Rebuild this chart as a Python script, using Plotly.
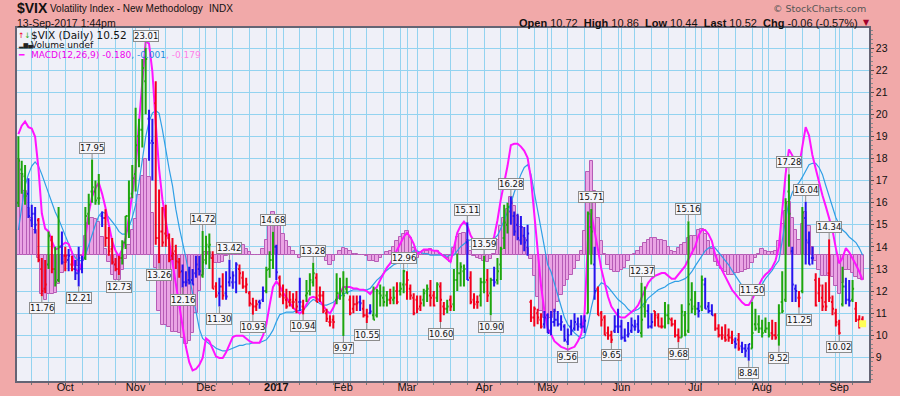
import plotly.graph_objects as go

# ---------------- data (trading-day index 0 = 13-Sep-2016 ... 252 = 13-Sep-2017) -------------
MONTH_IDX = [14, 35, 56, 77, 97, 116, 139, 158, 180, 202, 222, 245]
MONTH_LBL = ["Oct", "Nov", "Dec", "<b>2017</b>", "Feb", "Mar", "Apr", "May", "Jun", "Jul", "Aug", "Sep"]
PRICE_TICKS = list(range(9, 24))

OPEN = [16.0,17.5,17.2,16.4,15.2,15.5,15.2,13.0,12.1,13.2,
        14.3,13.0,12.5,14.0,13.6,13.4,13.2,13.0,12.8,13.0,
        13.5,15.5,16.5,16.5,16.2,15.4,15.3,14.4,13.9,13.2,
        13.0,13.5,14.2,15.4,16.4,17.3,19.0,19.3,21.5,19.8,
        18.8,20.5,14.4,14.7,14.6,14.4,13.6,13.8,13.3,12.9,
        12.4,12.5,12.5,12.8,13.0,12.7,13.4,14.0,13.5,12.2,
        11.9,12.2,11.9,12.4,12.4,12.4,13.0,12.6,12.2,11.9,
        11.4,11.3,11.5,11.6,12.0,13.0,13.4,14.0,12.6,11.8,
        11.6,11.5,11.5,11.6,11.5,11.3,11.8,12.0,12.4,12.6,
        11.8,11.8,11.0,10.6,10.7,11.6,11.9,11.9,12.1,11.6,
        11.2,11.4,11.5,11.2,10.9,11.0,10.9,10.9,11.9,11.7,
        11.8,11.6,11.6,12.0,12.0,12.3,12.3,12.1,11.7,11.6,
        11.3,11.6,12.0,11.8,11.8,11.7,12.2,11.3,11.2,11.6,
        11.4,12.5,12.8,12.9,14.2,12.6,11.6,11.5,11.8,12.4,
        12.5,11.9,12.5,12.5,13.2,14.4,15.0,15.6,15.4,15.0,
        14.3,14.5,14.3,11.5,10.8,11.0,10.7,10.5,10.9,10.2,
        10.6,10.7,10.5,10.4,9.7,10.4,10.3,10.5,10.5,10.4,
        11.0,14.9,13.2,12.1,11.0,10.8,10.1,10.0,10.2,10.4,
        10.4,9.9,10.0,10.2,10.4,10.5,10.1,11.3,11.1,10.4,
        11.1,10.8,10.4,10.4,10.9,10.7,10.5,10.0,9.9,10.9,
        10.2,11.6,11.3,11.2,11.3,12.3,11.3,11.1,10.9,10.3,
        10.0,9.9,10.0,9.9,9.7,9.8,9.5,9.4,9.4,9.4,
        10.5,10.5,10.3,10.2,10.3,10.1,10.0,10.0,11.5,11.6,
        16.5,13.8,12.1,11.7,12.0,15.3,14.2,13.5,12.5,11.9,
        11.7,11.5,12.8,11.5,11.0,10.5,11.4,12.2,11.6,11.6,
        11.2,10.7,10.72]

HIGH = [19.0,17.9,17.7,17.1,15.9,15.8,15.3,13.5,13.4,14.7,
        14.5,14.0,15.8,14.7,14.0,13.9,13.6,13.4,14.0,13.6,
        15.8,16.4,17.95,17.0,17.3,15.6,15.7,14.9,14.4,13.5,
        13.6,14.3,15.4,17.0,17.7,20.3,19.8,22.5,23.01,20.2,
        19.8,21.5,16.6,15.8,15.9,14.6,14.4,14.1,13.5,13.2,
        12.9,13.1,13.0,13.6,13.6,14.72,14.5,14.6,13.8,12.4,
        12.6,12.8,12.9,13.42,12.9,13.3,13.2,12.9,12.6,12.0,
        11.7,11.6,11.6,12.2,13.1,13.8,14.68,14.1,12.7,12.3,
        12.1,12.0,11.9,12.0,12.6,11.6,12.5,12.8,13.28,12.8,
        12.2,12.0,11.2,10.9,10.9,12.8,12.6,12.9,12.6,11.8,
        11.8,11.8,11.8,11.6,11.2,11.4,12.2,12.1,12.3,12.2,
        12.0,12.1,12.2,12.4,12.4,12.96,12.9,12.3,11.9,11.8,
        11.8,12.1,12.3,12.5,12.0,12.4,12.4,11.5,11.6,11.8,
        13.0,13.7,13.3,13.2,15.11,12.9,11.9,11.8,12.6,13.59,
        13.0,12.6,13.1,13.5,14.0,15.9,16.0,16.28,15.6,15.5,
        15.4,14.9,15.0,11.6,11.3,11.2,11.0,11.1,11.0,11.1,
        11.2,11.1,10.9,10.5,10.3,10.7,11.0,10.8,10.9,10.9,
        15.6,15.71,14.0,12.2,11.1,10.9,10.4,10.2,10.9,11.2,
        10.7,10.3,10.6,10.8,10.7,10.9,12.37,12.2,11.4,11.0,
        11.1,11.0,10.8,11.5,11.4,10.8,10.7,10.3,11.4,11.1,
        15.16,12.4,12.0,11.5,12.7,12.6,11.5,11.4,11.0,10.5,
        10.4,10.5,10.3,10.2,9.9,10.1,9.7,9.6,9.6,11.50,
        11.2,10.9,10.7,10.8,10.6,10.7,10.6,11.4,12.9,16.2,
        17.28,14.0,12.3,12.0,15.8,16.04,14.7,14.0,12.8,12.6,
        12.3,12.4,14.34,11.8,11.2,10.7,13.1,12.6,12.5,12.5,
        11.5,10.9,10.86]

LOW = [15.8,16.4,15.9,15.3,14.9,14.6,13.3,11.76,11.9,13.0,
       12.8,12.2,12.4,13.2,12.9,12.9,12.9,12.5,12.21,12.8,
       13.4,15.0,16.0,15.9,15.9,14.9,14.0,13.6,13.2,12.9,
       12.73,13.2,13.9,14.4,16.2,16.5,17.6,18.5,20.0,17.9,
       17.0,14.1,13.26,14.0,14.0,13.3,13.4,13.0,12.6,12.16,
       12.2,12.3,12.3,12.6,12.7,12.6,13.2,13.0,12.1,11.7,
       11.30,11.6,11.6,12.2,12.1,11.9,12.3,12.1,11.9,11.3,
       10.93,11.1,11.2,11.5,11.9,12.6,13.0,12.5,11.7,11.4,
       11.2,11.3,11.2,11.0,11.1,10.94,11.5,11.8,12.2,11.5,
       11.5,11.0,10.6,10.4,10.3,11.4,11.6,9.97,11.9,10.9,
       11.0,11.1,11.1,10.8,10.55,10.95,10.7,10.8,11.3,11.3,
       11.3,11.4,11.4,11.4,11.8,11.9,11.6,11.6,10.9,11.0,
       11.1,11.3,11.5,11.3,11.3,11.5,10.60,10.9,11.0,11.1,
       11.1,12.0,12.2,12.2,12.5,11.4,11.2,11.2,11.3,11.9,
       11.5,10.90,12.2,12.3,12.5,13.9,14.6,15.0,14.5,14.3,
       14.1,13.8,13.6,10.6,10.4,10.5,10.3,10.3,10.1,10.0,
       10.4,10.4,10.2,9.7,9.56,10.0,10.2,10.2,10.3,10.1,
       11.0,13.2,11.6,10.9,10.4,10.0,9.8,9.65,10.1,10.1,
       9.8,9.7,9.9,10.1,10.2,10.1,9.9,10.8,10.3,10.3,
       10.4,10.4,10.3,10.3,10.5,10.4,9.9,9.68,9.9,9.95,
       10.1,11.0,10.9,10.8,11.1,11.2,11.0,10.9,10.2,9.9,
       9.8,9.7,9.7,9.6,9.4,9.3,9.2,9.0,8.84,9.4,
       10.2,10.1,9.9,10.1,9.9,9.8,9.8,9.52,11.0,11.5,
       14.0,11.5,11.5,11.25,11.9,13.2,13.2,13.2,11.3,11.5,
       11.1,11.1,11.5,10.9,10.4,10.02,11.3,11.4,11.3,11.5,
       10.6,10.3,10.44]

CLOSE = [17.9,17.3,16.3,15.4,15.5,15.0,13.4,12.0,12.3,14.5,
         13.0,12.4,14.0,13.3,13.6,13.6,13.0,12.8,13.5,13.4,
         15.4,15.9,16.7,16.1,16.2,15.3,14.4,13.8,13.3,13.0,
         13.5,14.2,15.4,16.2,17.1,18.6,19.3,22.1,22.5,18.7,
         18.7,14.4,14.7,14.2,14.5,13.4,13.7,13.35,12.85,12.4,
         12.4,12.4,12.3,13.2,12.9,13.3,14.1,14.1,12.1,11.8,
         12.2,11.8,11.75,12.6,12.7,13.2,12.8,12.2,12.3,11.45,
         11.3,11.4,11.45,12.0,12.95,13.4,14.0,12.85,11.85,11.7,
         11.3,11.6,11.5,11.3,11.5,11.2,11.9,12.5,12.8,11.5,
         11.8,11.1,10.75,10.6,10.6,11.9,12.0,11.8,11.9,11.0,
         11.4,11.45,11.45,10.9,10.85,11.07,10.7,12.0,11.8,11.5,
         11.6,11.7,11.7,11.5,12.1,12.9,12.5,11.8,11.0,11.2,
         11.45,11.9,12.1,11.7,11.35,12.3,11.6,11.2,11.3,11.3,
         12.5,12.8,13.1,13.0,12.5,11.5,11.4,11.5,12.4,12.4,
         11.8,12.5,12.4,12.9,13.9,15.1,15.8,16.0,14.7,14.4,
         14.9,14.2,14.6,10.8,11.2,10.8,10.4,10.8,10.1,10.6,
         10.7,10.5,10.6,9.8,10.0,10.2,10.6,10.4,10.4,10.65,
         15.5,14.7,12.0,10.9,10.7,10.0,9.99,9.8,10.4,10.4,
         9.9,9.75,10.07,10.45,10.4,10.2,10.7,11.5,10.4,10.6,
         10.9,10.4,10.4,10.9,10.75,10.5,10.0,9.9,11.06,10.03,
         11.4,11.2,11.2,11.1,12.5,11.2,11.1,10.9,10.3,10.0,
         10.0,9.8,9.9,9.8,9.6,9.4,9.4,9.3,9.6,10.1,
         10.3,10.3,10.1,10.3,10.0,10.0,9.9,11.0,11.1,16.0,
         15.5,12.3,12.0,11.7,15.55,14.3,13.2,13.5,11.35,12.25,
         11.3,11.3,11.7,11.2,10.6,10.1,12.2,11.6,11.55,12.1,
         10.7,10.6,10.52]

# Elder-impulse state of each bar: G = up, R = down, B = neutral
IMPULSE = ("GGGBBBRRRGRGGB" "RBRBBBGGGGGBRRRRRGGGG" "GGGGBBRRRRRRRRBBBBBBG"
           "GGRRBRBBBBRRRRRRBBGGG" "BRRRRRRBRGGGRRRRRRGGGG" "RRRBRRBGGGGGRGRGG"
           "RRRRRGGRRGRRGRGGGGBRRRG" "GRGBGGGGBBBBBBRRRRB" "BBBBBBBBBBBBGGBRRRRRBB"
           "BBBBBBGGBBRRRGGRRRGGGG" "GBGBBBRRRRRRBRBBBGGG" "GGGRRGGGGBBRGBBBRRRRRRR"
           "RGBBGRRR")

MACD = [0.87,0.93,0.96,0.92,0.91,0.85,0.62,0.30,0.19,0.17,
        0.10,0.04,0.05,0.07,0.09,0.08,0.02,-0.10,-0.12,-0.05,
        0.14,0.30,0.42,0.48,0.52,0.44,0.34,0.22,0.10,0.03,
        -0.01,0.04,0.12,0.27,0.45,0.62,0.95,1.27,1.54,1.52,
        1.32,0.95,0.62,0.40,0.25,0.10,-0.05,-0.22,-0.36,-0.50,
        -0.66,-0.77,-0.83,-0.82,-0.79,-0.74,-0.60,-0.62,-0.68,-0.73,
        -0.74,-0.74,-0.70,-0.64,-0.59,-0.58,-0.58,-0.58,-0.60,-0.62,
        -0.63,-0.63,-0.63,-0.58,-0.50,-0.36,-0.23,-0.19,-0.22,-0.27,
        -0.31,-0.35,-0.38,-0.40,-0.42,-0.40,-0.36,-0.31,-0.30,-0.31,
        -0.33,-0.37,-0.40,-0.42,-0.38,-0.32,-0.27,-0.23,-0.23,-0.23,
        -0.24,-0.24,-0.25,-0.25,-0.26,-0.28,-0.25,-0.23,-0.18,-0.13,
        -0.09,-0.06,-0.01,0.04,0.09,0.13,0.16,0.13,0.08,0.01,
        0.02,0.04,0.04,0.04,0.03,0.03,0.01,-0.01,-0.03,-0.05,
        0.05,0.16,0.21,0.24,0.21,0.14,0.10,0.08,0.07,0.06,
        0.06,0.08,0.13,0.25,0.40,0.52,0.64,0.79,0.80,0.80,
        0.78,0.75,0.70,0.55,0.30,0.03,-0.22,-0.40,-0.53,-0.57,
        -0.62,-0.64,-0.66,-0.67,-0.68,-0.67,-0.66,-0.62,-0.57,-0.42,
        0.10,0.30,0.18,0.04,-0.10,-0.20,-0.30,-0.37,-0.41,-0.44,
        -0.45,-0.45,-0.43,-0.41,-0.39,-0.36,-0.31,-0.25,-0.20,-0.17,
        -0.15,-0.14,-0.13,-0.13,-0.15,-0.17,-0.17,-0.14,-0.11,-0.08,
        -0.03,0.02,0.06,0.14,0.18,0.18,0.15,0.10,0.00,-0.06,
        -0.11,-0.16,-0.21,-0.25,-0.28,-0.31,-0.34,-0.36,-0.36,-0.32,
        -0.27,-0.22,-0.17,-0.14,-0.12,-0.09,-0.04,0.06,0.32,0.58,
        0.76,0.72,0.67,0.63,0.78,0.92,0.86,0.72,0.62,0.52,
        0.43,0.35,0.27,0.18,0.05,-0.06,-0.02,0.05,0.02,-0.02,
        -0.07,-0.12,-0.180]

SIGNAL = [0.18,0.35,0.50,0.58,0.64,0.67,0.64,0.58,0.51,0.45,
          0.38,0.31,0.26,0.20,0.15,0.09,0.02,-0.02,-0.04,-0.04,
          0.00,0.07,0.15,0.22,0.28,0.31,0.30,0.27,0.24,0.21,
          0.17,0.15,0.15,0.20,0.27,0.36,0.52,0.70,0.85,0.96,
          1.02,1.04,1.02,0.90,0.75,0.62,0.50,0.33,0.20,0.10,
          -0.02,-0.15,-0.27,-0.40,-0.53,-0.60,-0.62,-0.64,-0.65,-0.67,
          -0.68,-0.69,-0.69,-0.68,-0.67,-0.66,-0.65,-0.65,-0.64,-0.64,
          -0.63,-0.63,-0.63,-0.62,-0.61,-0.58,-0.54,-0.48,-0.43,-0.42,
          -0.41,-0.41,-0.41,-0.40,-0.40,-0.39,-0.37,-0.34,-0.32,-0.33,
          -0.35,-0.36,-0.36,-0.35,-0.34,-0.32,-0.30,-0.28,-0.27,-0.26,
          -0.25,-0.25,-0.25,-0.25,-0.25,-0.24,-0.21,-0.18,-0.16,-0.13,
          -0.11,-0.09,-0.07,-0.06,-0.04,-0.02,-0.01,0.01,0.03,0.03,
          0.02,0.01,0.01,0.00,0.00,0.00,0.00,0.00,-0.01,0.00,
          0.00,0.03,0.06,0.08,0.10,0.11,0.11,0.10,0.10,0.10,
          0.11,0.11,0.12,0.14,0.19,0.25,0.31,0.37,0.45,0.52,
          0.58,0.63,0.65,0.58,0.45,0.33,0.18,0.05,-0.07,-0.12,
          -0.21,-0.30,-0.37,-0.45,-0.50,-0.53,-0.56,-0.58,-0.60,-0.59,
          -0.50,-0.38,-0.28,-0.23,-0.20,-0.21,-0.23,-0.26,-0.29,-0.32,
          -0.34,-0.36,-0.39,-0.41,-0.40,-0.39,-0.37,-0.34,-0.31,-0.29,
          -0.27,-0.25,-0.24,-0.23,-0.21,-0.20,-0.19,-0.19,-0.18,-0.17,
          -0.15,-0.12,-0.08,-0.04,-0.01,0.03,0.05,0.06,0.05,0.02,
          -0.01,-0.04,-0.07,-0.11,-0.15,-0.18,-0.22,-0.25,-0.26,-0.26,
          -0.25,-0.23,-0.21,-0.17,-0.14,-0.11,-0.07,-0.04,0.10,0.26,
          0.38,0.45,0.49,0.52,0.56,0.61,0.65,0.66,0.66,0.63,
          0.58,0.50,0.42,0.34,0.27,0.22,0.18,0.16,0.13,0.11,
          0.09,0.05,-0.001]

# bars whose high / low carry a value flag
HIGH_FLAGS = [22, 38, 55, 63, 76, 88, 115, 134, 139, 147, 171, 186, 200, 219, 230, 235, 242]
LOW_FLAGS = [7, 18, 30, 42, 49, 60, 70, 85, 97, 104, 126, 141, 164, 177, 197, 218, 227, 233, 245]

# ---------------- figure -------------
N = len(CLOSE)
X = list(range(N))
HIST = [round(m - s, 3) for m, s in zip(MACD, SIGNAL)]

GRID = "#93d3f0"
BAR_COL = {"G": "#1ea60e", "R": "#f2001c", "B": "#2614ee"}
FONT_V = "DejaVu Sans"
FONT_A = "Liberation Sans"

# plot-area pixel box (used only to place the header texts in paper space)
L_PX, R_PX, T_PX, B_PX = 17, 869, 28, 381
def px(xp):
    return (xp - L_PX) / (R_PX - L_PX)
def py(yp):
    return (B_PX - yp) / (B_PX - T_PX)

fig = go.Figure()

# MACD overlay (its own hidden scale on the base y axis)
fig.add_trace(go.Bar(x=X, y=HIST, width=1.0,
                     marker=dict(color="#eaa4e4", line=dict(color="#b65cb6", width=1)),
                     hoverinfo="skip"))
fig.add_trace(go.Scatter(x=X, y=SIGNAL, mode="lines",
                         line=dict(color="#2f9fe6", width=1.2), hoverinfo="skip"))
fig.add_trace(go.Scatter(x=X, y=MACD, mode="lines",
                         line=dict(color="#ff14ff", width=2), hoverinfo="skip"))

# last-price highlight
fig.add_trace(go.Scatter(x=[X[-1]], y=[CLOSE[-1]], yaxis="y2", mode="markers",
                         marker=dict(symbol="square", size=7, color="#ffff55"), hoverinfo="skip"))

# price bars, coloured by impulse state
for code, col in BAR_COL.items():
    idx = [i for i in X if IMPULSE[i] == code]
    fig.add_trace(go.Ohlc(
        x=idx,
        open=[OPEN[i] for i in idx], high=[HIGH[i] for i in idx],
        low=[LOW[i] for i in idx], close=[CLOSE[i] for i in idx],
        yaxis="y2", tickwidth=0.45,
        increasing=dict(line=dict(color=col, width=2)),
        decreasing=dict(line=dict(color=col, width=2)),
        hoverinfo="skip"))

ann = []
flag_style = dict(xref="x", yref="y2", showarrow=True, arrowhead=0, arrowwidth=1,
                  arrowcolor="#8c8c8c", ax=0, bgcolor="#f6f6fa", bordercolor="#8c8c8c",
                  borderwidth=1, borderpad=0, font=dict(family=FONT_V, size=8.5, color="#111"))
for i in HIGH_FLAGS:
    ann.append(dict(x=i, y=HIGH[i], text=f"{HIGH[i]:.2f}", ay=-12, **flag_style))
for i in LOW_FLAGS:
    ann.append(dict(x=i, y=LOW[i], text=f"{LOW[i]:.2f}", ay=12, **flag_style))

# header
hdr = dict(xref="paper", yref="paper", showarrow=False, yanchor="middle")
ann.append(dict(x=px(15), y=py(8), xanchor="left",
                text="<b>$VIX</b>", font=dict(family=FONT_A, size=14, color="#111"), **hdr))
ann.append(dict(x=px(48), y=py(8.5), xanchor="left",
                text="Volatility Index - New Methodology",
                font=dict(family=FONT_A, size=10, color="#111"), **hdr))
ann.append(dict(x=px(207), y=py(8.5), xanchor="left", text="INDX",
                font=dict(family=FONT_A, size=10, color="#111"), **hdr))
ann.append(dict(x=px(15), y=py(23), xanchor="left", text="13-Sep-2017 1:44pm",
                font=dict(family=FONT_A, size=10.5, color="#111"), **hdr))
ann.append(dict(x=px(868), y=py(8.5), xanchor="right", text="© StockCharts.com",
                font=dict(family=FONT_V, size=9.5, color="#555"), **hdr))
stats = ("<b>Open</b> 10.72\u00a0\u00a0<b>High</b> 10.86\u00a0\u00a0<b>Low</b> 10.44"
         "\u00a0\u00a0<b>Last</b> 10.52\u00a0\u00a0<b>Chg</b> -0.06 (-0.57%)")
ann.append(dict(x=px(860), y=py(22.5), xanchor="right", text=stats,
                font=dict(family=FONT_A, size=11, color="#111"), **hdr))
ann.append(dict(x=px(861), y=py(22.5), xanchor="left", text="▼",
                font=dict(family=FONT_V, size=8, color="#a0002a"), **hdr))

# in-plot legend
ann.append(dict(x=px(16), y=py(35), xanchor="left",
                text="<span style='color:#f2001c'>↑</span><span style='color:#1ea60e'>↓</span>",
                font=dict(family=FONT_V, size=7.5), **hdr))
ann.append(dict(x=px(29), y=py(35), xanchor="left", text="$VIX (Daily) 10.52",
                font=dict(family=FONT_V, size=10.5, color="#111"), **hdr))
ann.append(dict(x=px(16), y=py(45), xanchor="left", text="▂▆▄",
                font=dict(family=FONT_V, size=6, color="#222"), **hdr))
ann.append(dict(x=px(29), y=py(45), xanchor="left", text="Volume undef",
                font=dict(family=FONT_V, size=9, color="#111"), **hdr))
ann.append(dict(x=px(16), y=py(54.5), xanchor="left",
                text="<span style='color:#ff14ff'><b>━</b></span>",
                font=dict(family=FONT_V, size=9), **hdr))
ann.append(dict(x=px(29), y=py(54.5), xanchor="left",
                text=("<span style='color:#ee00ee'>MACD(12,26,9) -0.180</span>"
                      "<span style='color:#1b8fe0'>, -0.001</span>"
                      "<span style='color:#ff80ea'>, -0.179</span>"),
                font=dict(family=FONT_V, size=9), **hdr))

fig.update_layout(
    width=900, height=396,
    margin=dict(l=L_PX, r=900 - R_PX, t=T_PX, b=396 - B_PX, autoexpand=False),
    paper_bgcolor="#f1a9a9", plot_bgcolor="#eff0f8",
    showlegend=False, bargap=0, annotations=ann,
    xaxis=dict(range=[-0.41, 253.9], tickmode="array", tickvals=MONTH_IDX, ticktext=MONTH_LBL,
               automargin=False,
               showgrid=True, gridcolor=GRID, gridwidth=1, zeroline=False,
               ticks="outside", ticklen=3, tickcolor="#555", ticklabelstandoff=-8,
               minor=dict(tickmode="linear", tick0=14, dtick=5, showgrid=True, gridcolor=GRID,
                          gridwidth=1, ticks="outside", ticklen=2, tickcolor="#777"),
               showline=True, linecolor="#646474", linewidth=1.5, mirror=True,
               rangeslider=dict(visible=False),
               tickfont=dict(family=FONT_A, size=11, color="#111")),
    yaxis=dict(range=[-0.906, 1.633], visible=False, showgrid=False, zeroline=False,
               automargin=False),
    yaxis2=dict(overlaying="y", side="right", range=[7.928, 23.905],
                tickmode="array", tickvals=PRICE_TICKS, automargin=False,
                showgrid=True, gridcolor=GRID, gridwidth=1, zeroline=False,
                ticks="outside", ticklen=3, tickcolor="#555",
                minor=dict(tickmode="linear", tick0=0, dtick=0.2, ticks="outside",
                           ticklen=2, tickcolor="#888", showgrid=False),
                showline=True, linecolor="#646474", linewidth=1.5, mirror=True,
                tickfont=dict(family=FONT_A, size=10.5, color="#111")),
)

fig.write_html("out.html", config={"displayModeBar": False},
               post_script="document.body.style.margin='0px';")
